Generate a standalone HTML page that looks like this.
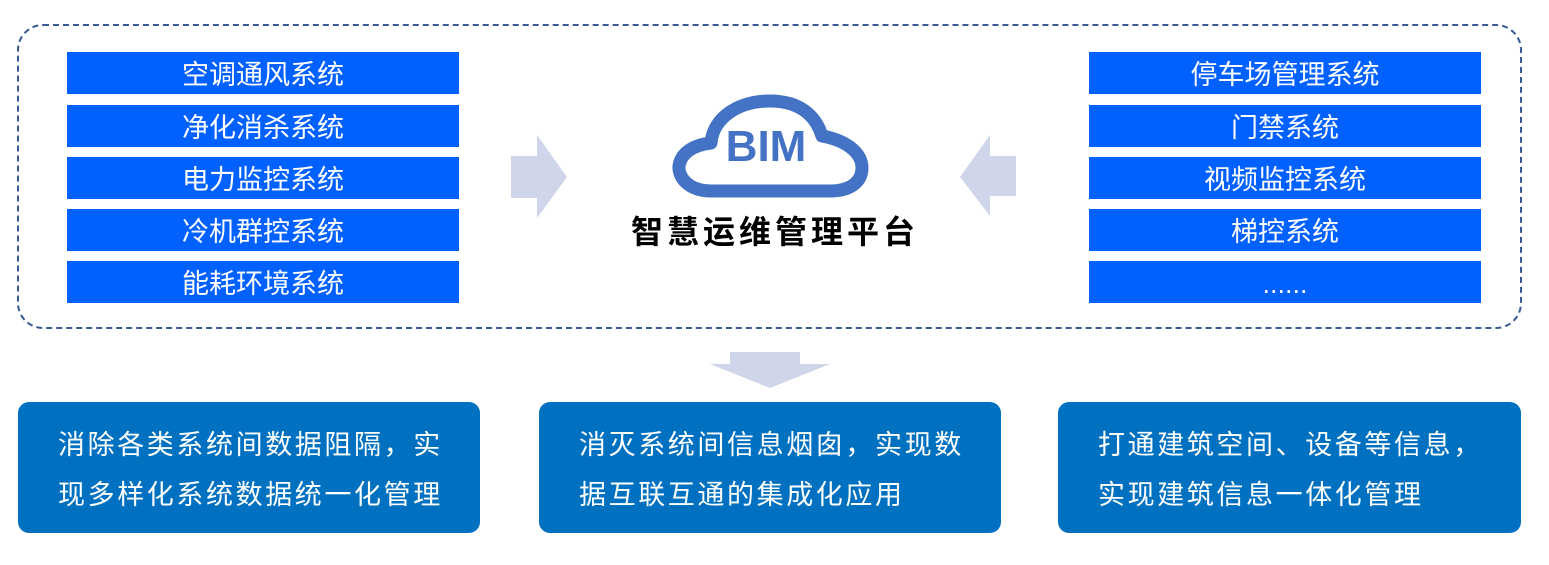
<!DOCTYPE html>
<html><head><meta charset="utf-8"><style>
body{margin:0;width:1549px;height:565px;background:#fff;position:relative;overflow:hidden;font-family:"Liberation Sans","Noto Sans CJK SC",sans-serif;}
.frame{position:absolute;left:17px;top:24px;width:1501px;height:301px;border:2px dashed #3a5a96;border-radius:26px;}
.b{position:absolute;width:392px;height:42px;background:#0061fe;color:#fff;font-size:27px;line-height:46px;text-align:center;overflow:hidden;}
.c{position:absolute;top:402px;height:131px;background:#0071c1;border-radius:11px;color:#fff;font-size:27px;line-height:50px;box-sizing:border-box;padding:18px 0 0 40px;letter-spacing:2.6px;}
</style></head><body>
<div class="frame"></div>
<div class="b" style="left:67px;top:52px">空调通风系统</div>
<div class="b" style="left:67px;top:105px">净化消杀系统</div>
<div class="b" style="left:67px;top:157px">电力监控系统</div>
<div class="b" style="left:67px;top:209px">冷机群控系统</div>
<div class="b" style="left:67px;top:261px">能耗环境系统</div>
<div class="b" style="left:1089px;top:52px">停车场管理系统</div>
<div class="b" style="left:1089px;top:105px">门禁系统</div>
<div class="b" style="left:1089px;top:157px">视频监控系统</div>
<div class="b" style="left:1089px;top:209px">梯控系统</div>
<div class="b" style="left:1089px;top:261px">......</div>
<svg width="1549" height="565" style="position:absolute;left:0;top:0">
<polygon points="511,156 537,156 537,135 567,177 537,218 537,198 511,198" fill="#cfd6ea"/>
<polygon points="1016,156 990,156 990,135 960,177 990,216 990,196 1016,196" fill="#cfd6ea"/>
<polygon points="730,352 800,352 800,364 830,364 770,388 710,364 730,364" fill="#cfd6ea"/>
<path d="M712,191 C686,191 678,175 679,166 C681,153 693,145 711,143 C713,118 738,101 770,101 C800,101 816,116 822,136 C845,140 862,152 862,168 C862,182 850,191 830,191 Z" fill="none" stroke="#4472c4" stroke-width="13" stroke-linejoin="round"/>
<text x="766" y="161" text-anchor="middle" font-family="Liberation Sans,sans-serif" font-weight="bold" font-size="44" fill="#4472c4">BIM</text>
<text x="775" y="243" text-anchor="middle" font-family="Liberation Sans,Noto Sans CJK SC,sans-serif" font-weight="bold" font-size="32" letter-spacing="4" fill="#000">智慧运维管理平台</text>
</svg>
<div class="c" style="left:18px;width:462px">消除各类系统间数据阻隔，实<br>现多样化系统数据统一化管理</div>
<div class="c" style="left:539px;width:462px">消灭系统间信息烟囱，实现数<br>据互联互通的集成化应用</div>
<div class="c" style="left:1058px;width:463px">打通建筑空间、设备等信息，<br>实现建筑信息一体化管理</div>
</body></html>
